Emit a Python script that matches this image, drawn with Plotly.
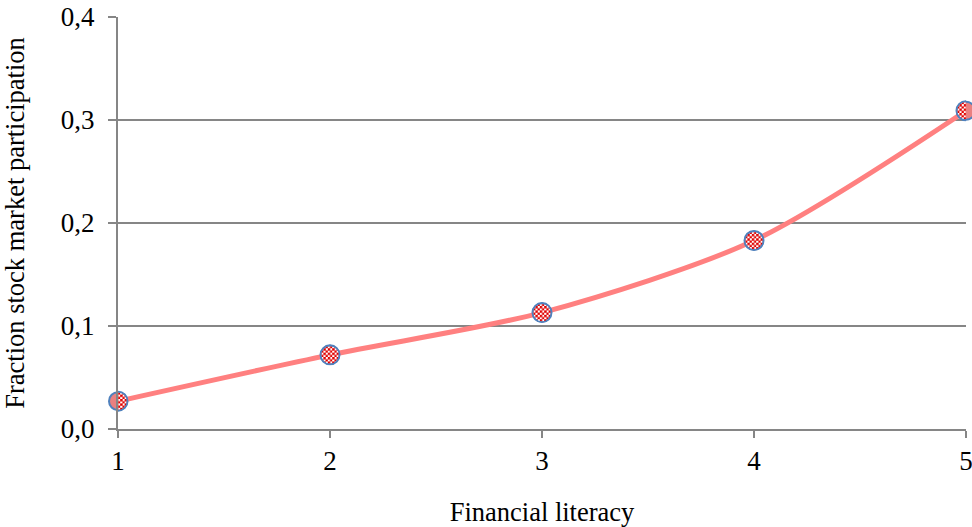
import base64
import plotly.graph_objects as go

# Financial literacy score vs. share of households holding stocks
literacy = [1, 2, 3, 4, 5]
participation = [0.027, 0.072, 0.113, 0.183, 0.309]

y_ticks = [0.0, 0.1, 0.2, 0.3, 0.4]
x_ticks = [1, 2, 3, 4, 5]

FONT = "Liberation Serif, Times New Roman, serif"
X_RANGE = [1, 5]
Y_RANGE = [0, 0.4]
MARGIN = dict(l=118, r=6, t=17, b=98)
W, H = 972, 527

# red/white checkered disc with a blue rim, used as the point marker
MARKER_SVG = (
    "<svg xmlns='http://www.w3.org/2000/svg' width='40' height='40' viewBox='0 0 20 20'>"
    "<defs><pattern id='p' width='4' height='4' patternUnits='userSpaceOnUse'>"
    "<rect width='4' height='4' fill='white'/>"
    "<rect width='2.2' height='2.2' fill='#e00000'/>"
    "<rect x='2' y='2' width='2.2' height='2.2' fill='#e00000'/>"
    "</pattern></defs>"
    "<circle cx='10' cy='10' r='8.7' fill='url(#p)' stroke='#4f81bd' stroke-width='1.7'/>"
    "</svg>"
)
MARKER_URI = "data:image/svg+xml;base64," + base64.b64encode(MARKER_SVG.encode()).decode()
MARKER_PX = 22

plot_w = W - MARGIN["l"] - MARGIN["r"]
plot_h = H - MARGIN["t"] - MARGIN["b"]
size_x = MARKER_PX * (X_RANGE[1] - X_RANGE[0]) / plot_w
size_y = MARKER_PX * (Y_RANGE[1] - Y_RANGE[0]) / plot_h

fig = go.Figure()

# smoothed line
fig.add_trace(go.Scatter(
    x=literacy, y=participation, mode="lines",
    line=dict(color="#ff8080", width=5, shape="spline", smoothing=0.8),
    hoverinfo="skip", showlegend=False,
))

# plain markers underneath (carry the hover info)
fig.add_trace(go.Scatter(
    x=literacy, y=participation, mode="markers",
    marker=dict(size=18, color="#ea8080", line=dict(color="#4f81bd", width=2)),
    showlegend=False, cliponaxis=False,
))

images = []
for xv, yv in zip(literacy, participation):
    images.append(dict(
        source=MARKER_URI, xref="x", yref="y", x=xv, y=yv,
        sizex=size_x, sizey=size_y, xanchor="center", yanchor="middle",
        sizing="stretch", layer="above",
    ))

fig.update_layout(
    width=W, height=H,
    margin=MARGIN,
    paper_bgcolor="white", plot_bgcolor="white",
    separators=",.",
    font=dict(family=FONT, size=27, color="black"),
    images=images,
    xaxis=dict(
        range=X_RANGE, tickvals=x_ticks, ticktext=[str(v) for v in x_ticks],
        automargin=False, ticklabeloverflow="allow",
        showgrid=False, zeroline=False,
        showline=True, linecolor="#868686", linewidth=2,
        ticks="outside", ticklen=7, tickwidth=2, tickcolor="#868686",
        title=dict(text="Financial literacy", standoff=30,
                   font=dict(family=FONT, size=26.5)),
        tickfont=dict(family=FONT, size=27),
    ),
    yaxis=dict(
        range=Y_RANGE, tickvals=y_ticks, tickformat=".1f",
        automargin=False, ticklabeloverflow="allow",
        showgrid=True, gridcolor="#868686", gridwidth=2,
        zeroline=False,
        showline=True, linecolor="#868686", linewidth=2,
        ticks="outside", ticklen=8, tickwidth=2, tickcolor="#868686",
        ticklabelstandoff=8,
        title=dict(text="Fraction stock market participation", standoff=40,
                   font=dict(family=FONT, size=26.5)),
        tickfont=dict(family=FONT, size=27),
    ),
)

fig.write_html("out.html")
